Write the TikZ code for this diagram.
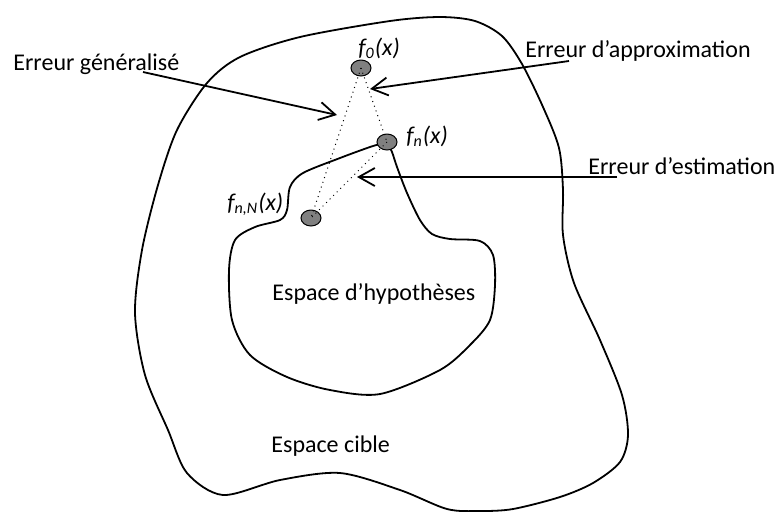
\documentclass[tikz,border=0pt]{standalone}
\usepackage{fontspec}
\setmainfont{Carlito}
\usetikzlibrary{positioning, arrows.meta, shapes.geometric}

\begin{document}
\begin{tikzpicture}[
		x=0.5pt, y=-0.5pt,
		dot/.style={draw, ellipse, fill=gray, line width=0.5pt, minimum width=10pt, minimum height=8pt, inner sep=0pt},
		lbl/.style={inner sep=0pt, anchor=base west, font=\fontsize{12}{14}\selectfont},
		flbl/.style={lbl, font=\fontsize{12}{14}\selectfont\itshape},
		arrow/.style={-{Straight Barb[length=8pt,width=9pt]}, line width=0.9pt},
		link/.style={dotted, line width=0.5pt},
		region/.style={line width=0.9pt}
	]
	\useasboundingbox (0,0) rectangle (781,511);

	% Target space
	\draw[region] plot[smooth cycle] coordinates {
		(177,130) (207,83) (240,57) (300,37) (390,21) (440,17)
		(475,21) (502,36) (522,64) (543,107) (559,148) (563,190) (563,235)
		(574,283) (600,340) (622,395) (628,435) (620,462) (593,483) (560,497) (513,509)
		(480,511) (447,509) (400,490) (340,473) (280,480) (223,495) (187,473) (168,430)
		(145,375) (135,313) (142,250) (158,185)};

	% Hypothesis space
	\draw[region] plot[smooth] coordinates {
		(387,142) (392,152) (397,167) (407,193) (420,220) (432,234) (450,239) (480,241)
		(493,255) (495,285) (490,320) (470,345) (440,370) (380,394) (330,390) (287,377)
		(250,355) (232,320) (229,270) (235,240) (255,227) (280,220) (287,210) (290,187)
		(303,173) (340,158) (370,147) (387,142)};

	% Functions
	\node[dot] (f0) at (361,68) {};
	\node[dot] (fn) at (387,142) {};
	\node[dot] (fnN) at (311,218) {};

	\node[flbl] (f0lbl) at (358,55) {f\textsubscript{0}(x)};
	\node[flbl] (fnlbl) at (406,143) {f\textsubscript{n}(x)};
	\node[flbl] (fnNlbl) at (227,210) {f\textsubscript{n,N}(x)};

	% Errors (Dotted)
	\draw[link] (f0.center) -- (fnN.center);
	\draw[link] (f0.center) -- (fn.center);
	\draw[link] (fn.center) -- (fnN.center);

	% Labels
	\node[lbl] (gen) at (13,70) {Erreur généralisé};
	\node[lbl] (approx) at (525,57) {Erreur d’approximation};
	\node[lbl] (estim) at (588,174) {Erreur d’estimation};
	\node[lbl] (hyp) at (272,300) {Espace d’hypothèses};
	\node[lbl] (cible) at (271,452) {Espace cible};

	% Error arrows
	\coordinate (genfrom) at (143,72);
	\coordinate (gento) at (337,115);
	\coordinate (approxfrom) at (569,61);
	\coordinate (approxto) at (370,89);
	\coordinate (estimfrom) at (617,177);
	\coordinate (estimto) at (357,177);

	\draw[arrow] (genfrom) -- (gento);
	\draw[arrow] (approxfrom) -- (approxto);
	\draw[arrow] (estimfrom) -- (estimto);

\end{tikzpicture}
\end{document}
